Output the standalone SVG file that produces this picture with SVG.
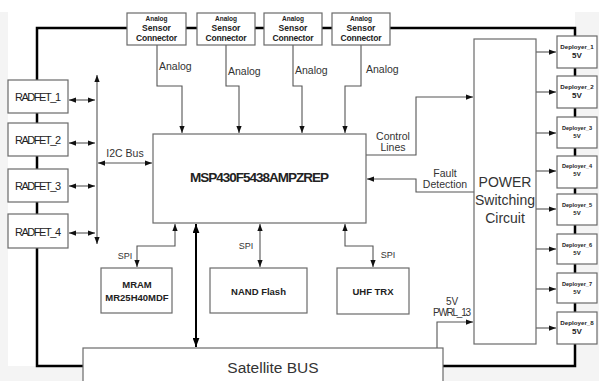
<svg xmlns="http://www.w3.org/2000/svg" width="599" height="381" viewBox="0 0 599 381">
<style>
.box{fill:#fff;stroke:#6a6a6a;stroke-width:1.2}
.ln{fill:none;stroke:#555;stroke-width:1.1}
.thick{fill:none;stroke:#000;stroke-width:2.5}
.t{font-family:"Liberation Sans",Arial,sans-serif;fill:#333;text-anchor:middle}
.b{font-weight:bold;fill:#222}
.rf{font-size:11px;fill:#222}
</style>
<defs>
<marker id="ah" viewBox="0 0 8 6" refX="8" refY="3" markerWidth="7" markerHeight="5.5" orient="auto-start-reverse" markerUnits="userSpaceOnUse"><path d="M0,0 L8,3 L0,6 z" fill="#111"/></marker>
<marker id="ahb" viewBox="0 0 8 6" refX="8" refY="3" markerWidth="9" markerHeight="7" orient="auto-start-reverse" markerUnits="userSpaceOnUse"><path d="M0,0 L8,3 L0,6 z" fill="#000"/></marker>
</defs>
<rect x="0" y="0" width="599" height="381" fill="#fff"/>
<path d="M0,12 H599 V381 H0 z M8,12 V366 H575 V30 H575 V12 z" fill="#f4f4f4" fill-rule="evenodd"/>
<g id="connectors">
<path class="thick" d="M83,366 H37 V28 H575 V366 H443"/>
<path class="ln" d="M157,45 V86 H182 V133" marker-end="url(#ah)"/>
<path class="ln" d="M226,45 V86 H239 V133" marker-end="url(#ah)"/>
<path class="ln" d="M293,45 V86 H302 V133" marker-end="url(#ah)"/>
<path class="ln" d="M361,45 V86 H345 V133" marker-end="url(#ah)"/>
<path class="ln" d="M366,155 H416 V97 H473" marker-end="url(#ah)"/>
<path class="ln" d="M474,192 H416 V179 H367" marker-end="url(#ah)"/>
<path class="ln" d="M97,244 V75" marker-start="url(#ah)" marker-end="url(#ah)"/>
<path class="ln" d="M69,100 H95" marker-start="url(#ah)" marker-end="url(#ah)"/>
<path class="ln" d="M69,143 H95" marker-start="url(#ah)" marker-end="url(#ah)"/>
<path class="ln" d="M69,186 H95" marker-start="url(#ah)" marker-end="url(#ah)"/>
<path class="ln" d="M69,233 H95" marker-start="url(#ah)" marker-end="url(#ah)"/>
<path class="ln" d="M98,163 H152" marker-start="url(#ah)" marker-end="url(#ah)"/>
<path class="ln" d="M536,52 H556" marker-end="url(#ah)"/>
<path class="ln" d="M536,92 H556" marker-end="url(#ah)"/>
<path class="ln" d="M536,133 H556" marker-end="url(#ah)"/>
<path class="ln" d="M536,171 H556" marker-end="url(#ah)"/>
<path class="ln" d="M536,209 H556" marker-end="url(#ah)"/>
<path class="ln" d="M536,249 H556" marker-end="url(#ah)"/>
<path class="ln" d="M536,289 H556" marker-end="url(#ah)"/>
<path class="ln" d="M536,328 H556" marker-end="url(#ah)"/>
<path fill="none" stroke="#000" stroke-width="2" d="M196,224 V347" marker-start="url(#ahb)" marker-end="url(#ahb)"/>
<path class="ln" d="M175,224 V246 H137 V267" marker-start="url(#ah)" marker-end="url(#ah)"/>
<path class="ln" d="M260,224 V267" marker-start="url(#ah)" marker-end="url(#ah)"/>
<path class="ln" d="M345,224 V246 H373 V267" marker-start="url(#ah)" marker-end="url(#ah)"/>
<path class="ln" d="M437,348 V322 H473" marker-end="url(#ah)"/>
<g class="t" font-size="10.5" fill="#444">
<text x="159" y="70" text-anchor="start">Analog</text>
<text x="228" y="75" text-anchor="start">Analog</text>
<text x="295" y="74" text-anchor="start">Analog</text>
<text x="366" y="73" text-anchor="start">Analog</text>
<text x="393" y="140">Control</text>
<text x="393" y="151">Lines</text>
<text x="445" y="177">Fault</text>
<text x="445" y="188">Detection</text>
<text x="125" y="157">I2C Bus</text>
<text x="125" y="259" font-size="9">SPI</text>
<text x="246" y="249" font-size="9">SPI</text>
<text x="388" y="258" font-size="9">SPI</text>
<text x="452" y="305" font-size="10">5V</text>
<text x="452" y="316" font-size="10" textLength="38">PWRL_13</text>
</g>
</g>
<g id="analog1"><rect class="box" x="127" y="13" width="59" height="32"/><text class="t b" x="156.5" y="21" font-size="6.5">Analog</text><text class="t b" x="156.5" y="31" font-size="8.5">Sensor</text><text class="t b" x="156.5" y="41" font-size="8.5" textLength="41">Connector</text></g>
<g id="analog2"><rect class="box" x="197" y="13" width="58" height="32"/><text class="t b" x="226" y="21" font-size="6.5">Analog</text><text class="t b" x="226" y="31" font-size="8.5">Sensor</text><text class="t b" x="226" y="41" font-size="8.5" textLength="41">Connector</text></g>
<g id="analog3"><rect class="box" x="264" y="13" width="58" height="32"/><text class="t b" x="293" y="21" font-size="6.5">Analog</text><text class="t b" x="293" y="31" font-size="8.5">Sensor</text><text class="t b" x="293" y="41" font-size="8.5" textLength="41">Connector</text></g>
<g id="analog4"><rect class="box" x="332" y="13" width="58" height="32"/><text class="t b" x="361" y="21" font-size="6.5">Analog</text><text class="t b" x="361" y="31" font-size="8.5">Sensor</text><text class="t b" x="361" y="41" font-size="8.5" textLength="41">Connector</text></g>
<g id="radfet1"><rect class="box" x="8" y="80" width="60" height="33"/><text class="t rf" x="38" y="101" textLength="46">RADFET_1</text></g>
<g id="radfet2"><rect class="box" x="8" y="123" width="60" height="33"/><text class="t rf" x="38" y="144" textLength="46">RADFET_2</text></g>
<g id="radfet3"><rect class="box" x="8" y="169" width="60" height="33"/><text class="t rf" x="38" y="190" textLength="46">RADFET_3</text></g>
<g id="radfet4"><rect class="box" x="8" y="214" width="60" height="34"/><text class="t rf" x="38" y="236" textLength="46">RADFET_4</text></g>
<g id="msp"><rect class="box" x="153" y="134" width="213" height="89"/><text class="t b" x="259.5" y="182" font-size="13.5" textLength="139" fill="#111">MSP430F5438AMPZREP</text></g>
<g id="power"><rect class="box" x="474" y="39" width="62" height="305"/><text class="t" x="505" y="187" font-size="14" fill="#333">POWER</text><text class="t" x="505" y="205" font-size="14" fill="#333">Switching</text><text class="t" x="505" y="223" font-size="14" fill="#333">Circuit</text></g>
<g id="mram"><rect class="box" x="101" y="268" width="71" height="45"/><text class="t b" x="137" y="288" font-size="9.5">MRAM</text><text class="t b" x="137" y="301" font-size="9.5">MR25H40MDF</text></g>
<g id="nand"><rect class="box" x="210" y="268" width="97" height="45"/><text class="t b" x="258.5" y="295" font-size="9.5">NAND Flash</text></g>
<g id="uhf"><rect class="box" x="337" y="268" width="72" height="46"/><text class="t b" x="373" y="295" font-size="9.5">UHF TRX</text></g>
<g id="bus"><rect class="box" x="83" y="348" width="360" height="40"/><text class="t" x="273" y="373" font-size="15.5" fill="#222">Satellite BUS</text></g>
<g id="deployer1"><rect class="box" x="557" y="36" width="40" height="32"/><text class="t b" x="577" y="49" font-size="6.2">Deployer_1</text><text class="t b" x="577" y="58" font-size="8">5V</text></g>
<g id="deployer2"><rect class="box" x="557" y="76" width="40" height="32"/><text class="t b" x="577" y="89" font-size="6.2">Deployer_2</text><text class="t b" x="577" y="98" font-size="8">5V</text></g>
<g id="deployer3"><rect class="box" x="557" y="117" width="40" height="31"/><text class="t b" x="577" y="130" font-size="5.6">Deployer_3</text><text class="t b" x="577" y="138" font-size="6">5V</text></g>
<g id="deployer4"><rect class="box" x="557" y="156" width="40" height="32"/><text class="t b" x="577" y="168" font-size="5.6">Deployer_4</text><text class="t b" x="577" y="176" font-size="6">5V</text></g>
<g id="deployer5"><rect class="box" x="557" y="194" width="40" height="31"/><text class="t b" x="577" y="207" font-size="5.6">Deployer_5</text><text class="t b" x="577" y="215" font-size="6">5V</text></g>
<g id="deployer6"><rect class="box" x="557" y="234" width="40" height="30"/><text class="t b" x="577" y="247" font-size="5.6">Deployer_6</text><text class="t b" x="577" y="255" font-size="6">5V</text></g>
<g id="deployer7"><rect class="box" x="557" y="273" width="40" height="30"/><text class="t b" x="577" y="286" font-size="5.6">Deployer_7</text><text class="t b" x="577" y="294" font-size="6">5V</text></g>
<g id="deployer8"><rect class="box" x="557" y="312" width="40" height="32"/><text class="t b" x="577" y="325" font-size="6.2">Deployer_8</text><text class="t b" x="577" y="334" font-size="8">5V</text></g>
</svg>
